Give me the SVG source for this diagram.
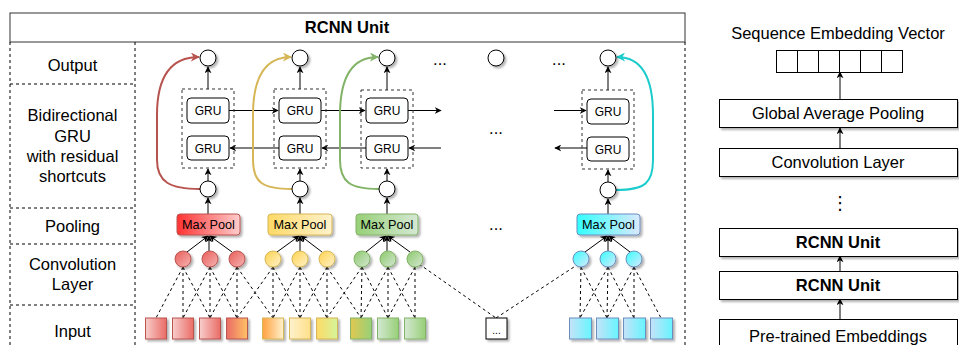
<svg xmlns="http://www.w3.org/2000/svg" width="959" height="345" viewBox="0 0 959 345">
<style>
text{font-family:"Liberation Sans",Arial,sans-serif;fill:#000}
.lbl{font-size:16.5px;text-anchor:middle}
.bold{font-weight:bold}
.gru{font-size:12px;text-anchor:middle}
.mp{font-size:12.7px;text-anchor:middle}
.dash{fill:none;stroke:#000;stroke-width:1;stroke-dasharray:3 3}
.cell{fill:none;stroke:#333;stroke-width:1;stroke-dasharray:3 3}
.box{fill:#fff;stroke:#000;stroke-width:1}
.grub{fill:#fff;stroke:#000;stroke-width:1}
.circ{fill:#fff;stroke:#000;stroke-width:1}
.arr{fill:none;stroke:#000;stroke-width:1;marker-end:url(#ah)}
.dl{fill:none;stroke:#000;stroke-width:1;stroke-dasharray:3 3}
.res{fill:none;stroke-width:2}
</style>
<defs>
<marker id="ah" viewBox="0 0 10 10" refX="9" refY="5" markerWidth="7" markerHeight="7" orient="auto" markerUnits="userSpaceOnUse"><path d="M0,0 L10,5 L0,10 L3,5 z" fill="#000"/></marker>
<marker id="ahR" viewBox="0 0 10 10" refX="9" refY="5" markerWidth="9" markerHeight="9" orient="auto" markerUnits="userSpaceOnUse"><path d="M0,0 L10,5 L0,10 L3,5 z" fill="#b85450"/></marker>
<marker id="ahY" viewBox="0 0 10 10" refX="9" refY="5" markerWidth="9" markerHeight="9" orient="auto" markerUnits="userSpaceOnUse"><path d="M0,0 L10,5 L0,10 L3,5 z" fill="#d6b656"/></marker>
<marker id="ahG" viewBox="0 0 10 10" refX="9" refY="5" markerWidth="9" markerHeight="9" orient="auto" markerUnits="userSpaceOnUse"><path d="M0,0 L10,5 L0,10 L3,5 z" fill="#82b366"/></marker>
<marker id="ahC" viewBox="0 0 10 10" refX="9" refY="5" markerWidth="9" markerHeight="9" orient="auto" markerUnits="userSpaceOnUse"><path d="M0,0 L10,5 L0,10 L3,5 z" fill="#1ccccc"/></marker>
<filter id="sh" x="-30%" y="-30%" width="160%" height="160%"><feDropShadow dx="2" dy="2" stdDeviation="1" flood-color="#000" flood-opacity="0.3"/></filter>
<linearGradient id="mpR"><stop offset="0" stop-color="#ff3333"/><stop offset="1" stop-color="#ffcccc"/></linearGradient>
<linearGradient id="mpY"><stop offset="0" stop-color="#ffd966"/><stop offset="1" stop-color="#fff2cc"/></linearGradient>
<linearGradient id="mpG"><stop offset="0" stop-color="#97d077"/><stop offset="1" stop-color="#d5e8d4"/></linearGradient>
<linearGradient id="mpC"><stop offset="0" stop-color="#33ffff"/><stop offset="1" stop-color="#dae8fc"/></linearGradient>
<linearGradient id="cR" x1="0" y1="0" x2="1" y2="1"><stop offset="0" stop-color="#e85c58"/><stop offset="1" stop-color="#f6b5b3"/></linearGradient>
<linearGradient id="cY" x1="0" y1="0" x2="1" y2="1"><stop offset="0" stop-color="#ffd24d"/><stop offset="1" stop-color="#fff2cc"/></linearGradient>
<linearGradient id="cG" x1="0" y1="0" x2="1" y2="1"><stop offset="0" stop-color="#8cc86a"/><stop offset="1" stop-color="#d5e8d4"/></linearGradient>
<linearGradient id="cC" x1="0" y1="0" x2="1" y2="1"><stop offset="0" stop-color="#33ffff"/><stop offset="1" stop-color="#dae8fc"/></linearGradient>
<linearGradient id="sR"><stop offset="0" stop-color="#f8cecc"/><stop offset="1" stop-color="#ea6b66"/></linearGradient>
<linearGradient id="sRO"><stop offset="0" stop-color="#ea6b66"/><stop offset="1" stop-color="#ffc266"/></linearGradient>
<linearGradient id="sOY"><stop offset="0" stop-color="#ffa040"/><stop offset="1" stop-color="#fff2cc"/></linearGradient>
<linearGradient id="sY"><stop offset="0" stop-color="#fff2cc"/><stop offset="1" stop-color="#ffe08a"/></linearGradient>
<linearGradient id="sYG"><stop offset="0" stop-color="#ffd966"/><stop offset="1" stop-color="#d4f59a"/></linearGradient>
<linearGradient id="sGY"><stop offset="0" stop-color="#e0c850"/><stop offset="1" stop-color="#97d077"/></linearGradient>
<linearGradient id="sG"><stop offset="0" stop-color="#d5e8d4"/><stop offset="1" stop-color="#97d077"/></linearGradient>
<linearGradient id="sC"><stop offset="0" stop-color="#c6e2f8"/><stop offset="1" stop-color="#66f5ff"/></linearGradient>
</defs>

<!-- RCNN Unit frame -->
<g id="rcnn-frame">
<rect x="10" y="13" width="675" height="29" fill="#fff" stroke="#333" stroke-width="1"/>
<text class="lbl bold" x="347" y="33">RCNN Unit</text>
<line x1="10" y1="42" x2="10" y2="345" class="dash"/>
<line x1="685" y1="42" x2="685" y2="345" class="dash"/>
<line x1="135" y1="42" x2="135" y2="345" class="dash"/>
<line x1="10" y1="84" x2="135" y2="84" class="dash"/>
<line x1="10" y1="208" x2="135" y2="208" class="dash"/>
<line x1="10" y1="244" x2="135" y2="244" class="dash"/>
<line x1="10" y1="305" x2="135" y2="305" class="dash"/>
</g>
<g id="row-labels">
<text class="lbl" x="72.5" y="71">Output</text>
<text class="lbl" x="72.5" y="121">Bidirectional</text>
<text class="lbl" x="72.5" y="142">GRU</text>
<text class="lbl" x="72.5" y="162">with residual</text>
<text class="lbl" x="72.5" y="182">shortcuts</text>
<text class="lbl" x="72.5" y="232">Pooling</text>
<text class="lbl" x="72.5" y="270">Convolution</text>
<text class="lbl" x="72.5" y="290">Layer</text>
<text class="lbl" x="72.5" y="337">Input</text>
</g>

<!-- connectors -->
<g id="connectors">
<path class="dl" d="M183 267 L156 318 M183 267 L183 318 M183 267 L210 318
M210 267 L183 318 M210 267 L210 318 M210 267 L237 318
M237 267 L210 318 M237 267 L237 318 M237 267 L273 318
M273 267 L237 318 M273 267 L273 318 M273 267 L300 318
M300 267 L273 318 M300 267 L300 318 M300 267 L327 318
M327 267 L300 318 M327 267 L327 318 M327 267 L361 318
M362 267 L327 318 M362 267 L361 318 M362 267 L388 318
M388 267 L361 318 M388 267 L388 318 M388 267 L415 318
M415 267 L388 318 M415 267 L415 318 M419 264 L496 318
M496 318 L577 265
M581 267 L580 318 M581 267 L607 318
M608 267 L580 318 M608 267 L607 318 M608 267 L634 318
M634 267 L607 318 M634 267 L634 318 M634 267 L661 318"/>
<g>
<line class="arr" x1="187" y1="252" x2="208" y2="236"/><line class="arr" x1="209" y1="251" x2="209" y2="236"/><line class="arr" x1="232" y1="252" x2="210" y2="236"/>
<line class="arr" x1="277" y1="252" x2="299" y2="236"/><line class="arr" x1="300" y1="251" x2="300" y2="236"/><line class="arr" x1="322" y1="252" x2="301" y2="236"/>
<line class="arr" x1="366" y1="252" x2="386" y2="236"/><line class="arr" x1="387" y1="251" x2="387" y2="236"/><line class="arr" x1="410" y1="252" x2="388" y2="236"/>
<line class="arr" x1="585" y1="252" x2="607" y2="236"/><line class="arr" x1="608" y1="251" x2="608" y2="236"/><line class="arr" x1="630" y1="252" x2="609" y2="236"/>
</g>
<g>
<line class="arr" x1="208" y1="214" x2="208" y2="198"/><line class="arr" x1="208" y1="181" x2="208" y2="169"/><line class="arr" x1="208" y1="89" x2="208" y2="67"/>
<line class="arr" x1="300" y1="214" x2="300" y2="198"/><line class="arr" x1="300" y1="181" x2="300" y2="169"/><line class="arr" x1="300" y1="89" x2="300" y2="67"/>
<line class="arr" x1="387" y1="214" x2="387" y2="198"/><line class="arr" x1="387" y1="181" x2="387" y2="169"/><line class="arr" x1="387" y1="90" x2="387" y2="67"/>
<line class="arr" x1="608" y1="214" x2="608" y2="199"/><line class="arr" x1="608" y1="182" x2="608" y2="170"/><line class="arr" x1="608" y1="90" x2="608" y2="67"/>
</g>
<g>
<line class="arr" x1="229" y1="110.5" x2="278" y2="110.5"/>
<line class="arr" x1="321" y1="110.5" x2="365" y2="110.5"/>
<line class="arr" x1="408" y1="110.5" x2="441" y2="110.5"/>
<line class="arr" x1="554" y1="110.5" x2="586" y2="110.5"/>
<line class="arr" x1="279" y1="148" x2="230" y2="148"/>
<line class="arr" x1="366" y1="148" x2="322" y2="148"/>
<line class="arr" x1="441" y1="148" x2="409" y2="148"/>
<line class="arr" x1="587" y1="148" x2="555" y2="148"/>
</g>
<path class="res" stroke="#b85450" marker-end="url(#ahR)" d="M200 189 C170 189 157 182 157 160 L157 115 C157 78 170 57 199 57"/>
<path class="res" stroke="#d6b656" marker-end="url(#ahY)" d="M292 189 C262 189 253 182 253 160 L253 115 C253 78 264 57 291 57"/>
<path class="res" stroke="#82b366" marker-end="url(#ahG)" d="M379 189 C350 189 340 182 340 160 L340 115 C340 78 352 57 378 57"/>
<path class="res" stroke="#1ccccc" marker-end="url(#ahC)" d="M616 190 C645 190 653 183 653 160 L653 115 C653 78 642 57 617 57"/>
</g>

<g id="output-nodes">
<circle class="circ" cx="208" cy="58" r="8" filter="url(#sh)"/>
<circle class="circ" cx="300" cy="58" r="8" filter="url(#sh)"/>
<circle class="circ" cx="387" cy="58" r="8" filter="url(#sh)"/>
<circle class="circ" cx="496" cy="58" r="8" filter="url(#sh)"/>
<circle class="circ" cx="608" cy="58" r="8" filter="url(#sh)"/>
<text class="lbl" x="440" y="65">...</text>
<text class="lbl" x="559" y="65">...</text>
</g>

<g id="gru-block-1">
<rect x="182" y="89" width="52" height="79" class="cell"/>
<rect x="187" y="98" width="42" height="25" rx="4" class="grub"/><text class="gru" x="208" y="115">GRU</text>
<rect x="187" y="136" width="42" height="24" rx="4" class="grub"/><text class="gru" x="208" y="152.5">GRU</text>
</g>
<g id="gru-block-2">
<rect x="274" y="89" width="52" height="79" class="cell"/>
<rect x="279" y="98" width="42" height="25" rx="4" class="grub"/><text class="gru" x="300" y="115">GRU</text>
<rect x="279" y="136" width="42" height="24" rx="4" class="grub"/><text class="gru" x="300" y="152.5">GRU</text>
</g>
<g id="gru-block-3">
<rect x="361" y="90" width="52" height="78" class="cell"/>
<rect x="366" y="98" width="42" height="25" rx="4" class="grub"/><text class="gru" x="387" y="115">GRU</text>
<rect x="366" y="136" width="42" height="24" rx="4" class="grub"/><text class="gru" x="387" y="152.5">GRU</text>
</g>
<g id="gru-block-4">
<rect x="582" y="90" width="52" height="79" class="cell"/>
<rect x="587" y="99" width="42" height="25" rx="4" class="grub"/><text class="gru" x="608" y="116">GRU</text>
<rect x="587" y="137" width="42" height="24" rx="4" class="grub"/><text class="gru" x="608" y="153.5">GRU</text>
</g>
<g id="gru-ellipsis"><text class="lbl" x="496" y="134">...</text></g>

<g id="merge-nodes">
<circle class="circ" cx="208" cy="189" r="8" filter="url(#sh)"/>
<circle class="circ" cx="300" cy="189" r="8" filter="url(#sh)"/>
<circle class="circ" cx="387" cy="189" r="8" filter="url(#sh)"/>
<circle class="circ" cx="608" cy="190" r="8" filter="url(#sh)"/>
</g>

<g id="maxpool-1"><rect x="177" y="214" width="63" height="21" rx="3" fill="url(#mpR)" stroke="#b85450" filter="url(#sh)"/><text class="mp" x="208.5" y="229">Max Pool</text></g>
<g id="maxpool-2"><rect x="268" y="214" width="64" height="21" rx="3" fill="url(#mpY)" stroke="#d6b656" filter="url(#sh)"/><text class="mp" x="300" y="229">Max Pool</text></g>
<g id="maxpool-3"><rect x="356" y="214" width="62" height="21" rx="3" fill="url(#mpG)" stroke="#82b366" filter="url(#sh)"/><text class="mp" x="387" y="229">Max Pool</text></g>
<g id="maxpool-4"><rect x="577" y="214" width="63" height="21" rx="3" fill="url(#mpC)" stroke="#6c8ebf" filter="url(#sh)"/><text class="mp" x="608.5" y="229">Max Pool</text></g>
<g id="pool-ellipsis"><text class="lbl" x="496" y="230">...</text></g>

<g id="conv-red">
<circle cx="183" cy="259" r="8" fill="url(#cR)" stroke="#b85450" filter="url(#sh)"/>
<circle cx="210" cy="259" r="8" fill="url(#cR)" stroke="#b85450" filter="url(#sh)"/>
<circle cx="237" cy="259" r="8" fill="url(#cR)" stroke="#b85450" filter="url(#sh)"/>
</g>
<g id="conv-yellow">
<circle cx="273" cy="259" r="8" fill="url(#cY)" stroke="#d6b656" filter="url(#sh)"/>
<circle cx="300" cy="259" r="8" fill="url(#cY)" stroke="#d6b656" filter="url(#sh)"/>
<circle cx="327" cy="259" r="8" fill="url(#cY)" stroke="#d6b656" filter="url(#sh)"/>
</g>
<g id="conv-green">
<circle cx="362" cy="259" r="8" fill="url(#cG)" stroke="#82b366" filter="url(#sh)"/>
<circle cx="388" cy="259" r="8" fill="url(#cG)" stroke="#82b366" filter="url(#sh)"/>
<circle cx="415" cy="259" r="8" fill="url(#cG)" stroke="#82b366" filter="url(#sh)"/>
</g>
<g id="conv-cyan">
<circle cx="581" cy="259" r="8" fill="url(#cC)" stroke="#6c8ebf" filter="url(#sh)"/>
<circle cx="608" cy="259" r="8" fill="url(#cC)" stroke="#6c8ebf" filter="url(#sh)"/>
<circle cx="634" cy="259" r="8" fill="url(#cC)" stroke="#6c8ebf" filter="url(#sh)"/>
</g>

<g id="inputs">
<rect x="145.5" y="318" width="21" height="21" fill="url(#sR)" stroke="#b85450" filter="url(#sh)"/>
<rect x="172.5" y="318" width="21" height="21" fill="url(#sR)" stroke="#b85450" filter="url(#sh)"/>
<rect x="199.5" y="318" width="21" height="21" fill="url(#sR)" stroke="#b85450" filter="url(#sh)"/>
<rect x="226.5" y="318" width="21" height="21" fill="url(#sRO)" stroke="#b85450" filter="url(#sh)"/>
<rect x="262.5" y="318" width="21" height="21" fill="url(#sOY)" stroke="#d6b656" filter="url(#sh)"/>
<rect x="289.5" y="318" width="21" height="21" fill="url(#sY)" stroke="#d6b656" filter="url(#sh)"/>
<rect x="316.5" y="318" width="21" height="21" fill="url(#sYG)" stroke="#d6b656" filter="url(#sh)"/>
<rect x="350.5" y="318" width="21" height="21" fill="url(#sGY)" stroke="#82b366" filter="url(#sh)"/>
<rect x="377.5" y="318" width="21" height="21" fill="url(#sG)" stroke="#82b366" filter="url(#sh)"/>
<rect x="404.5" y="318" width="21" height="21" fill="url(#sG)" stroke="#82b366" filter="url(#sh)"/>
<rect x="486" y="318" width="21" height="21" fill="#fff" stroke="#000" filter="url(#sh)"/>
<text x="496.5" y="334" font-size="10" text-anchor="middle">...</text>
<rect x="569.5" y="318" width="22" height="21" fill="url(#sC)" stroke="#6c8ebf" filter="url(#sh)"/>
<rect x="596.5" y="318" width="22" height="21" fill="url(#sC)" stroke="#6c8ebf" filter="url(#sh)"/>
<rect x="623.5" y="318" width="22" height="21" fill="url(#sC)" stroke="#6c8ebf" filter="url(#sh)"/>
<rect x="650.5" y="318" width="22" height="21" fill="url(#sC)" stroke="#6c8ebf" filter="url(#sh)"/>
</g>

<g id="stack-connectors">
<line class="arr" x1="840" y1="99" x2="840" y2="72"/>
<line class="arr" x1="840" y1="148" x2="840" y2="128"/>
<line class="arr" x1="840" y1="272" x2="840" y2="256"/>
<line class="arr" x1="840" y1="319" x2="840" y2="299"/>
</g>
<g id="seq-vector">
<text class="lbl" x="838" y="39">Sequence Embedding Vector</text>
<rect x="776.5" y="50.5" width="126" height="22" fill="#fff" stroke="#000"/>
<path d="M797.5 50.5 V72.5 M818.5 50.5 V72.5 M839.5 50.5 V72.5 M860.5 50.5 V72.5 M881.5 50.5 V72.5" stroke="#000" fill="none"/>
</g>
<g id="gap-box"><rect x="719.5" y="99.5" width="238" height="28" class="box" filter="url(#sh)"/><text class="lbl" x="838" y="119">Global Average Pooling</text></g>
<g id="conv-box"><rect x="719.5" y="148.5" width="238" height="28" class="box" filter="url(#sh)"/><text class="lbl" x="838" y="168">Convolution Layer</text></g>
<g id="stack-ellipsis"><text x="840" y="209" font-size="18" text-anchor="middle" style="font-family:'DejaVu Sans',sans-serif">⋮</text></g>
<g id="rcnn-box-2"><rect x="719.5" y="228.5" width="238" height="28" class="box" filter="url(#sh)"/><text class="lbl bold" x="838" y="248">RCNN Unit</text></g>
<g id="rcnn-box-1"><rect x="719.5" y="271.5" width="238" height="28" class="box" filter="url(#sh)"/><text class="lbl bold" x="838" y="291">RCNN Unit</text></g>
<g id="pretrained-box"><rect x="719.5" y="319.5" width="238" height="30" class="box"/><text class="lbl" x="838" y="342">Pre-trained Embeddings</text></g>
</svg>
